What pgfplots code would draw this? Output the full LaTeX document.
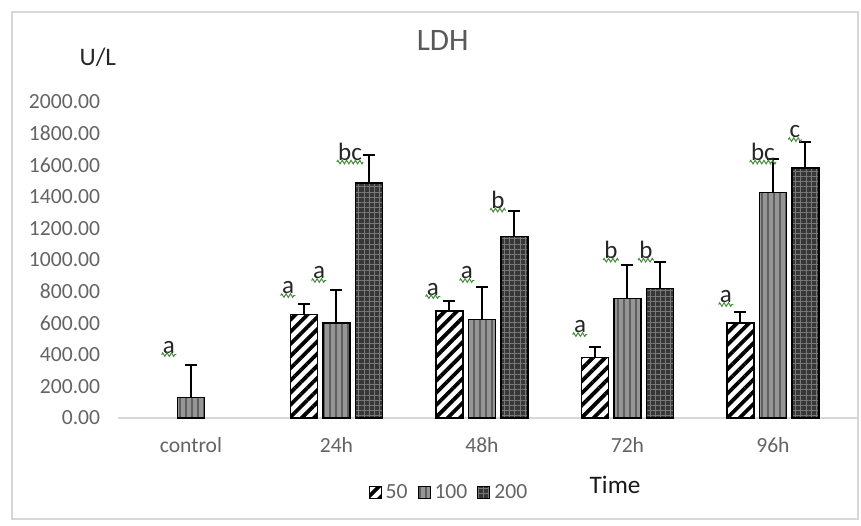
\documentclass[border=0pt]{standalone}
\usepackage{pgfplots}
\pgfplotsset{compat=1.18}
\usepackage{pgfplotstable}
\usepackage{fontspec}
\setmainfont{Carlito}
\usetikzlibrary{patterns.meta,decorations.pathmorphing}

\definecolor{ticktext}{RGB}{100,100,100}
\definecolor{titletext}{RGB}{89,89,89}
\definecolor{midbar}{RGB}{150,150,150}
\definecolor{midstripe}{RGB}{95,95,95}
\definecolor{darkbar}{RGB}{55,55,55}
\definecolor{darkgrid}{RGB}{120,120,120}
\definecolor{framegray}{RGB}{215,215,215}
\definecolor{squiggle}{RGB}{70,140,60}

% LDH activity (U/L): mean and upper error
\pgfplotstableread{
x y e
1 656 63
2 679 63
3 384 63
4 603 66
}\dosefifty
\pgfplotstableread{
x y e
0 130 205
1 603 207
2 624 207
3 757 213
4 1428 209
}\dosehundred
\pgfplotstableread{
x y e
1 1489 175
2 1148 164
3 820 169
4 1584 161
}\dosetwohundred
% significance letters
\pgfplotstableread{
x y t
-0.151 449 a
0.667 823 a
0.880 918 a
1.093 1684 bc
1.663 816 a
1.897 918 a
2.110 1380 b
2.674 576 a
2.887 1063 b
3.127 1063 b
3.677 766 a
3.931 1684 bc
4.151 1810 c
}\letters

% one bar slot = 16.25pt = 0.2234 category units
\def\slot{0.2234}

\begin{document}
\begin{tikzpicture}
% page extent and chart frame
\path (-59.1pt,-53.5pt) rectangle (371.4pt,209pt);
\draw[framegray, line width=1pt] (-53.1pt,-50.5pt) rectangle (369.9pt,203pt);
\begin{axis}[
  at={(36.375pt,0pt)}, anchor=origin,
  scale only axis,
  width=363.75pt, height=158pt,
  xmin=-0.5, xmax=4.5,
  ymin=0, ymax=2000,
  clip=false,
  axis x line*=bottom, axis y line*=left,
  y axis line style={draw=none},
  x axis line style={framegray, line width=1pt, shorten >=-6pt},
  major tick length=0pt,
  xtick={0,1,2,3,4},
  xticklabels={control,24h,48h,72h,96h},
  ytick={0,200,...,2000},
  /pgf/number format/fixed,
  /pgf/number format/fixed zerofill,
  /pgf/number format/precision=2,
  /pgf/number format/1000 sep={},
  /pgf/number format/assume math mode=true,
  tick label style={font=\fontsize{10.8}{13}\selectfont, text=ticktext},
  xticklabel style={yshift=-6pt},
  yticklabel style={xshift=-5.5pt},
  title={LDH},
  title style={at={(0.446,1.158)}, anchor=center, font=\fontsize{15.6}{18}\selectfont, text=titletext},
  ylabel={U/L},
  ylabel style={at={(rel axis cs:-0.028,1.142)}, anchor=center, rotate=-90, font=\fontsize{12.6}{15}\selectfont, text=black!85},
  xlabel={Time},
  xlabel style={at={(rel axis cs:0.683,-0.212)}, anchor=center, font=\fontsize{12.6}{15}\selectfont, text=black!90},
  legend style={at={(0.456,-0.237)}, anchor=center, legend columns=-1, draw=none,
    font=\fontsize{10.8}{13}\selectfont, text=ticktext,
    /tikz/every even column/.append style={column sep=3pt}},
  legend image code/.code={\draw[#1, line width=0.5pt] (0pt,-3pt) rectangle (6pt,3pt);},
  errs/.style={forget plot, draw=none, no markers,
    error bars/.cd, y dir=plus, y explicit,
    error bar style={draw=black, line width=1pt},
    error mark options={rotate=90, mark size=3pt, line width=1pt, draw=black}},
]
\addplot[ybar, bar width=13.5pt, bar shift=-16.25pt, draw=black, line width=0.8pt,
  fill=white, postaction={pattern={Lines[angle=45, distance=4.3pt, line width=1.9pt]}, pattern color=black}]
  table[x=x, y=y] {\dosefifty};
\addlegendentry{50}
\addplot[ybar, bar width=13.5pt, bar shift=0pt, draw=black, line width=0.8pt,
  fill=midbar, postaction={pattern={Lines[angle=90, distance=3pt, line width=0.9pt]}, pattern color=midstripe}]
  table[x=x, y=y] {\dosehundred};
\addlegendentry{100}
\addplot[ybar, bar width=13.5pt, bar shift=16.25pt, draw=black, line width=0.8pt,
  fill=darkbar, postaction={pattern={Hatch[angle=0, distance=2.6pt, line width=0.5pt]}, pattern color=darkgrid}]
  table[x=x, y=y] {\dosetwohundred};
\addlegendentry{200}
% upper error bars, one per bar
\addplot[errs] table[x expr=\thisrow{x}-\slot, y=y, y error=e] {\dosefifty};
\addplot[errs] table[x=x, y=y, y error=e] {\dosehundred};
\addplot[errs] table[x expr=\thisrow{x}+\slot, y=y, y error=e] {\dosetwohundred};
\addplot[only marks, mark=none, forget plot,
  nodes near coords, point meta=explicit symbolic,
  nodes near coords style={anchor=center, font=\fontsize{12.5}{15}\selectfont, text=black!85, inner sep=0.5pt,
    append after command={(\tikzlastnode.south west) edge[squiggle, line width=0.5pt, decorate,
      decoration={zigzag, amplitude=0.9pt, segment length=2.2pt}] (\tikzlastnode.south east)}}]
  table[x=x, y=y, meta=t] {\letters};
\end{axis}
\end{tikzpicture}
\end{document}
